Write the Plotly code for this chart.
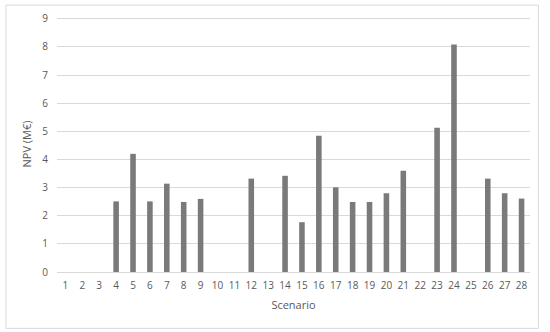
import plotly.graph_objects as go

scenarios = [str(i) for i in range(1, 29)]
npv = [None, None, None, 2.51, 4.20, 2.51, 3.14, 2.49, 2.60, None, None, 3.32, None,
       3.42, 1.77, 4.84, 3.01, 2.49, 2.49, 2.80, 3.60, None, 5.13, 8.09, None, 3.32, 2.80, 2.61]
y_ticks = list(range(0, 10))

L, R, T, B = 57, 20.4, 15.9, 60.3
W, H = 550, 332
pw, ph = W - L - R, H - T - B

fig = go.Figure(go.Bar(x=scenarios, y=npv, marker_color="#7a7a7a", marker_line_width=0))

font = dict(family="Open Sans, Liberation Sans, sans-serif", size=10, color="#595959")
fig.update_layout(
    width=W, height=H,
    margin=dict(l=L, r=R, t=T, b=B),
    paper_bgcolor="white", plot_bgcolor="white",
    bargap=0.67, showlegend=False, font=font,
    xaxis=dict(type="category", showgrid=False, showline=True, linecolor="#d9d9d9",
               linewidth=1, ticks="", ticklabelstandoff=4, tickfont=dict(size=10, color="#595959"),
               title=dict(text="Scenario", font=dict(size=11, color="#595959"), standoff=10)),
    yaxis=dict(range=[0, 9.1], tickvals=y_ticks, showgrid=True, gridcolor="#d9d9d9",
               gridwidth=1, zeroline=False, ticks="", ticklabelstandoff=8,
               tickfont=dict(size=10, color="#595959"),
               title=dict(text="NPV (M€)", font=dict(size=11, color="#595959"), standoff=8)),
)

x0 = (6 - L) / pw
x1 = (538 - L) / pw
y0 = ((H - B) - 328) / ph
y1 = ((H - B) - 5) / ph
fig.add_shape(type="rect", xref="paper", yref="paper", x0=x0, x1=x1, y0=y0, y1=y1,
              line=dict(color="#d9d9d9", width=1), layer="below")

fig.write_html("out.html", config={"displayModeBar": False},
               post_script="document.body.style.margin='0';")
